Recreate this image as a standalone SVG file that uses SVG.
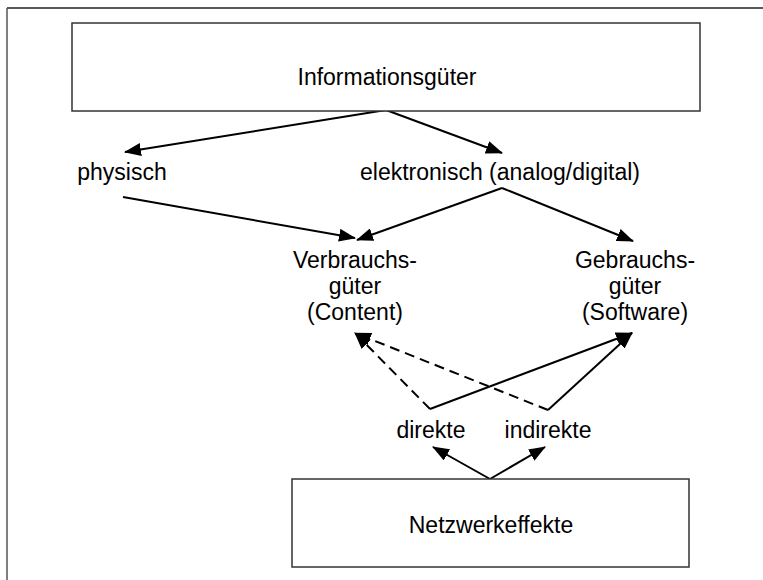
<svg xmlns="http://www.w3.org/2000/svg" width="763" height="580" viewBox="0 0 763 580">
<style>
.box{fill:#fff;stroke:#333;stroke-width:1.5}
.t{font-family:"Liberation Sans",Arial,sans-serif;font-size:23px;fill:#000;text-anchor:middle}
.c{fill:none;stroke:#000;stroke-width:2}
.d{stroke-dasharray:10 6}
</style>
<defs>
<marker id="ah" markerUnits="userSpaceOnUse" markerWidth="17" markerHeight="13" refX="16" refY="6.5" orient="auto" viewBox="0 0 17 13">
<path d="M0,0 L17,6.5 L0,13 z" fill="#000"/>
</marker>
</defs>
<rect width="763" height="580" fill="#fff"/>
<g id="frame">
<line x1="7" y1="8" x2="763" y2="8" stroke="#222" stroke-width="1.5"/>
<line x1="7" y1="8" x2="7" y2="580" stroke="#555" stroke-width="1.5"/>
</g>
<g id="connectors" class="c">
<line x1="386" y1="110" x2="125" y2="152" marker-end="url(#ah)"/>
<line x1="386" y1="110" x2="502" y2="153" marker-end="url(#ah)"/>
<line x1="123" y1="197" x2="355" y2="238" marker-end="url(#ah)"/>
<line x1="502" y1="188" x2="357" y2="240" marker-end="url(#ah)"/>
<line x1="502" y1="188" x2="633" y2="241" marker-end="url(#ah)"/>
<line class="d" x1="430" y1="409" x2="355" y2="333" marker-end="url(#ah)"/>
<line class="d" x1="548" y1="410" x2="355" y2="333" marker-end="url(#ah)"/>
<line x1="430" y1="409" x2="632" y2="333" marker-end="url(#ah)"/>
<line x1="548" y1="410" x2="632" y2="333" marker-end="url(#ah)"/>
<line x1="490" y1="479" x2="433" y2="447" marker-end="url(#ah)"/>
<line x1="490" y1="479" x2="545" y2="447" marker-end="url(#ah)"/>
</g>
<g id="informationsgueter">
<rect class="box" x="72" y="23" width="628" height="88"/>
<text class="t" x="387" y="85">Informationsgüter</text>
</g>
<g id="physisch">
<text class="t" x="122" y="180">physisch</text>
</g>
<g id="elektronisch">
<text class="t" x="500" y="180">elektronisch (analog/digital)</text>
</g>
<g id="verbrauchsgueter">
<text class="t" x="355" y="268">Verbrauchs-</text>
<text class="t" x="355" y="294">güter</text>
<text class="t" x="355" y="320">(Content)</text>
</g>
<g id="gebrauchsgueter">
<text class="t" x="635" y="268">Gebrauchs-</text>
<text class="t" x="635" y="294">güter</text>
<text class="t" x="635" y="320">(Software)</text>
</g>
<g id="direkte">
<text class="t" x="431" y="438">direkte</text>
</g>
<g id="indirekte">
<text class="t" x="548" y="438">indirekte</text>
</g>
<g id="netzwerkeffekte">
<rect class="box" x="292" y="479" width="397" height="88"/>
<text class="t" x="491" y="533">Netzwerkeffekte</text>
</g>
</svg>
